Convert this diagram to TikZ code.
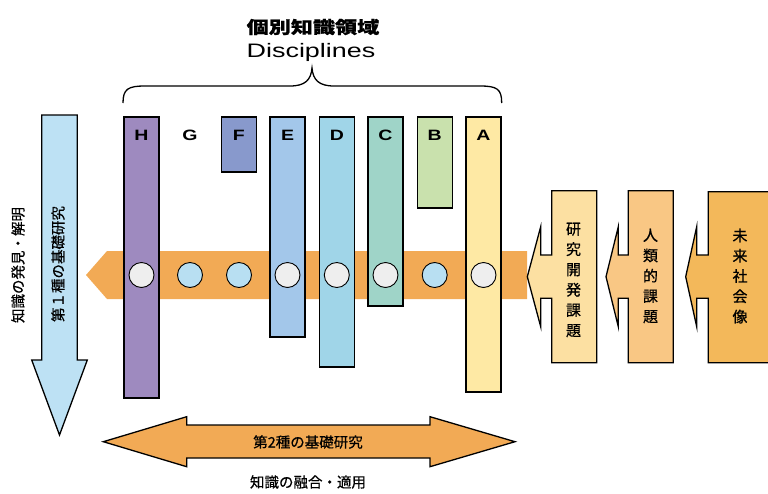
\documentclass[tikz,border=0pt]{standalone}
\usepackage{fontspec}
\usepackage{graphicx}
\setmainfont{Liberation Sans}
\newfontfamily\cjk{Noto Sans CJK JP}[FakeBold=0.6]
\definecolor{cH}{HTML}{9E8ABF}
\definecolor{cF}{HTML}{8899CC}
\definecolor{cE}{HTML}{A3C7EA}
\definecolor{cD}{HTML}{A0D5E8}
\definecolor{cC}{HTML}{9FD4C8}
\definecolor{cB}{HTML}{C9E1AD}
\definecolor{cA}{HTML}{FEE9A4}
\definecolor{band}{HTML}{F2AA55}
\definecolor{dotw}{HTML}{EEEEEE}
\definecolor{dotb}{HTML}{B8DFF2}
\definecolor{larr}{HTML}{BDE1F4}
\definecolor{box1}{HTML}{FCE0A2}
\definecolor{box2}{HTML}{F9C784}
\definecolor{box3}{HTML}{F3B85A}
\begin{document}
\begin{tikzpicture}[x=1pt,y=-1pt,
  bar/.style={draw=black,line width=1.4pt,minimum width=35pt,anchor=north,inner sep=0pt,outer sep=0pt},
  blab/.style={font=\bfseries\fontsize{15}{15}\selectfont,inner sep=0pt},
  dot/.style={circle,draw=black,line width=0.9pt,minimum size=25pt,inner sep=0pt},
  shp/.style={draw=black,line width=1.3pt,line join=miter},
  jtxt/.style={font=\cjk\fontsize{14.5}{14.5}\selectfont,inner sep=0pt},
  stack/.style={font=\cjk\fontsize{15}{20.3}\selectfont,align=center,inner sep=0pt}]
\useasboundingbox (0,0) rectangle (768,493);
% title
\node[inner sep=0pt,font=\cjk\bfseries\fontsize{17}{17}\selectfont] (title) at (313,27) {\scalebox{1.3}[1]{個別知識領域}};
\node[inner sep=0pt,font=\fontsize{19.5}{19.5}\selectfont] (disc) at (311,52) {\scalebox{1.38}[1]{Disciplines}};
% brace
\draw[line width=1.3pt] (123,103) .. controls (123,89) and (128,86) .. (145,86) -- (290,86)
  .. controls (305,86) and (311,80) .. (312,68) .. controls (313,80) and (319,86) .. (334,86)
  -- (480,86) .. controls (497,86) and (501.7,89) .. (501.7,103);
% orange band
\fill[band] (86,275) -- (107,251) -- (527,251) -- (527,299) -- (107,299) -- cycle;
% bars
\node[bar,fill=cH,minimum height=281pt] (H) at (141.5,117) {};
\node[bar,fill=cF,minimum height=55pt] (F) at (238.8,117) {};
\node[bar,fill=cE,minimum height=220pt] (E) at (287.5,117) {};
\node[bar,fill=cD,minimum height=250pt] (D) at (336.8,117) {};
\node[bar,fill=cC,minimum height=189pt] (C) at (385.5,117) {};
\node[bar,fill=cB,minimum height=91pt] (B) at (434.7,117) {};
\node[bar,fill=cA,minimum height=275pt] (A) at (483.5,117) {};
% bar labels
\node[blab] (lH) at (141.5,135) {\scalebox{1.3}[1]{H}};
\node[blab] (lG) at (190,135) {\scalebox{1.3}[1]{G}};
\node[blab] (lF) at (238.8,135) {\scalebox{1.3}[1]{F}};
\node[blab] (lE) at (287.5,135) {\scalebox{1.3}[1]{E}};
\node[blab] (lD) at (336.8,135) {\scalebox{1.3}[1]{D}};
\node[blab] (lC) at (385.5,135) {\scalebox{1.3}[1]{C}};
\node[blab] (lB) at (434.7,135) {\scalebox{1.3}[1]{B}};
\node[blab] (lA) at (483.5,135) {\scalebox{1.3}[1]{A}};
% dots
\node[dot,fill=dotw] (dH) at (141.5,275) {};
\node[dot,fill=dotb] (dG) at (190,275) {};
\node[dot,fill=dotb] (dF) at (239,275) {};
\node[dot,fill=dotw] (dE) at (287.5,275) {};
\node[dot,fill=dotw] (dD) at (336.8,275) {};
\node[dot,fill=dotw] (dC) at (385.5,275) {};
\node[dot,fill=dotb] (dB) at (434.7,275) {};
\node[dot,fill=dotw] (dA) at (483.5,275) {};
% left blue arrow
\draw[shp,fill=larr] (41.7,115) -- (77.3,115) -- (77.3,360) -- (87.3,360) -- (59.5,435) -- (31.7,360) -- (41.7,360) -- cycle;
\node[jtxt,rotate=90] (t1) at (58,264) {第１種の基礎研究};
\node[jtxt,rotate=90] (t2) at (18,265) {知識の発見・解明};
% bottom double arrow
\draw[shp,fill=band] (103.3,441.7) -- (186.7,416.7) -- (186.7,425) -- (430,425) -- (430,416.7) -- (515,441.7)
  -- (430,466.7) -- (430,458) -- (186.7,458) -- (186.7,466.7) -- cycle;
\node[jtxt] (t3) at (308,442) {第2種の基礎研究};
\node[jtxt] (t4) at (308,482) {知識の融合・適用};
% right callout boxes
\draw[shp,fill=box1] (551.7,190.7) -- (596.7,190.7) -- (596.7,362.7) -- (551.7,362.7) -- (551.7,298.3)
  -- (540.7,298.3) -- (540.7,326.7) -- (527.3,276.7) -- (540.7,226.7) -- (540.7,255) -- (551.7,255) -- cycle;
\draw[shp,fill=box2] (628.3,190.7) -- (673.3,190.7) -- (673.3,362.7) -- (628.3,362.7) -- (628.3,298.3)
  -- (618.3,298.3) -- (618.3,326.7) -- (606,276.7) -- (618.3,226.7) -- (618.3,255) -- (628.3,255) -- cycle;
\draw[shp,fill=box3] (708.3,191.7) -- (772,191.7) -- (772,362.7) -- (708.3,362.7) -- (708.3,298.3)
  -- (696.7,298.3) -- (696.7,326.7) -- (685.7,276.7) -- (696.7,226.7) -- (696.7,255) -- (708.3,255) -- cycle;
\node[stack] (s1) at (573.5,280) {研\\究\\開\\発\\課\\題};
\node[stack] (s2) at (650.5,276) {人\\類\\的\\課\\題};
\node[stack] (s3) at (740,276) {未\\来\\社\\会\\像};
\end{tikzpicture}
\end{document}
